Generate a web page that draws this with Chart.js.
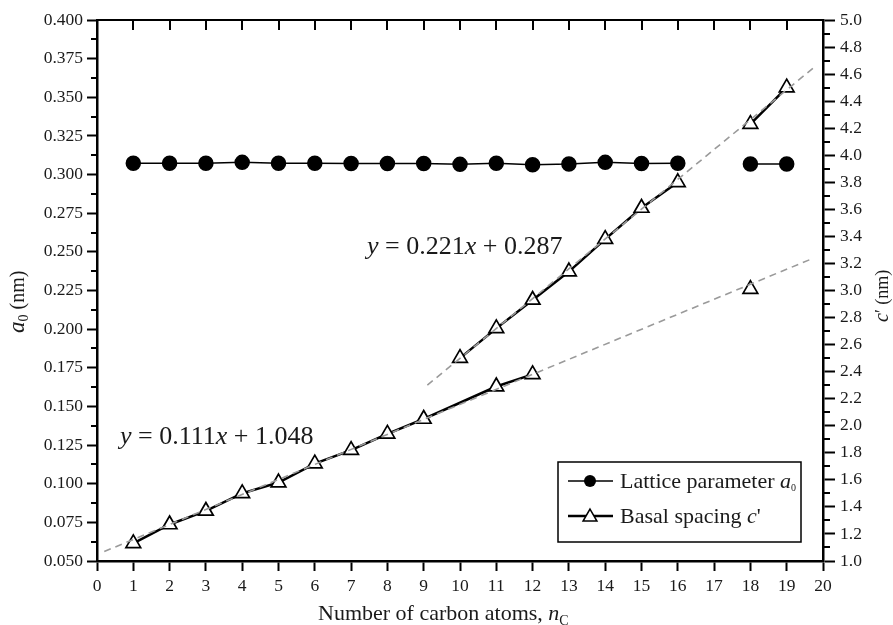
<!DOCTYPE html>
<html>
<head>
<meta charset="utf-8">
<title>Lattice parameter and basal spacing vs number of carbon atoms</title>
<script src="https://cdn.jsdelivr.net/npm/chart.js@4.4.1/dist/chart.umd.min.js"></script>
<style>
  html, body { margin: 0; padding: 0; background: #fff; }
  #chart { display: block; }
</style>
</head>
<body>
<canvas id="chart" width="893" height="625"></canvas>
<script>
// values
const latticeX  = [1, 2, 3, 4, 5, 6, 7, 8, 9, 10, 11, 12, 13, 14, 15, 16, 17, 18, 19];
const latticeA0 = [0.3073, 0.3073, 0.3073, 0.3079, 0.3073, 0.3073, 0.3071, 0.3071, 0.3071, 0.3066,
                   0.3073, 0.3064, 0.3068, 0.3079, 0.3071, 0.3073, null, 0.3068, 0.3068];

// basal spacing c' (nm), two branches; null breaks the line
const basalLowX  = [1, 2, 3, 4, 5, 6, 7, 8, 9, 11, 12, 13, 18];
const basalLowC  = [1.13, 1.27, 1.37, 1.50, 1.58, 1.72, 1.82, 1.94, 2.05, 2.29, 2.38, null, 3.01];
const basalHighX = [10, 11, 12, 13, 14, 15, 16, 17, 18, 19];
const basalHighC = [2.50, 2.72, 2.93, 3.14, 3.38, 3.61, 3.80, null, 4.23, 4.50];

// dashed linear fits, end points as drawn
const fitLowX  = [0.2, 19.7];
const fitLowC  = [1.07, 3.235];
const fitHighX = [9.1, 19.8];
const fitHighC = [2.30, 4.66];

const X_RANGE  = [0, 20];
const A0_RANGE = [0.05, 0.40];
const C_RANGE  = [1.0, 5.0];

const SERIF = '"Liberation Serif", "Times New Roman", serif';
const INK = '#1a1a1a';

const pts = (xs, ys) => xs.map((x, i) => ({ x: x, y: ys[i] }));

function drawRuns(ctx, x, y, runs) {
  for (const r of runs) {
    ctx.font = r.font;
    ctx.fillText(r.text, x, y + (r.dy || 0));
    x += ctx.measureText(r.text).width;
  }
  return x;
}

function triangle(ctx, x, y, r) {
  ctx.beginPath();
  ctx.moveTo(x, y - r);
  ctx.lineTo(x + r * 0.866, y + r / 2);
  ctx.lineTo(x - r * 0.866, y + r / 2);
  ctx.closePath();
}

// frame top, minor ticks, titles, equations and the boxed legend
const decorPlugin = {
  id: 'decor',
  afterDraw(chart) {
    const ctx = chart.ctx;
    const { left, right, top, bottom } = chart.chartArea;
    const xs = chart.scales.x, yl = chart.scales.y, yr = chart.scales.y1;
    ctx.save();
    ctx.strokeStyle = '#000';
    ctx.lineWidth = 2;
    ctx.beginPath();
    ctx.moveTo(left - 1, top);
    ctx.lineTo(right + 1, top);
    for (let v = 1; v < X_RANGE[1]; v++) {
      const px = Math.round(xs.getPixelForValue(v));
      ctx.moveTo(px, top);
      ctx.lineTo(px, top + 10);
    }
    for (let i = 0; i < 14; i++) {
      const py = Math.round(yl.getPixelForValue(0.0625 + i * 0.025));
      ctx.moveTo(left, py);
      ctx.lineTo(left - 6, py);
    }
    for (let i = 0; i < 20; i++) {
      const py = Math.round(yr.getPixelForValue(1.1 + i * 0.2));
      ctx.moveTo(right, py);
      ctx.lineTo(right + 7, py);
    }
    ctx.stroke();

    ctx.fillStyle = INK;
    ctx.textBaseline = 'alphabetic';
    ctx.textAlign = 'left';

    // x title
    drawRuns(ctx, 318, 620, [
      { text: 'Number of carbon atoms, ', font: '22px ' + SERIF },
      { text: 'n', font: 'italic 22px ' + SERIF },
      { text: 'C', font: '14px ' + SERIF, dy: 5 }
    ]);

    // left title
    ctx.save();
    ctx.translate(24, 333);
    ctx.rotate(-Math.PI / 2);
    drawRuns(ctx, 0, 0, [
      { text: 'a', font: 'italic 23px ' + SERIF },
      { text: '0', font: '14px ' + SERIF, dy: 4 },
      { text: ' (nm)', font: '20px ' + SERIF }
    ]);
    ctx.restore();

    // right title
    ctx.save();
    ctx.translate(888, 322);
    ctx.rotate(-Math.PI / 2);
    drawRuns(ctx, 0, 0, [
      { text: 'c', font: 'italic 20px ' + SERIF },
      { text: '\u2032', font: '18px ' + SERIF },
      { text: ' (nm)', font: '18px ' + SERIF }
    ]);
    ctx.restore();

    // fit equations
    drawRuns(ctx, 367, 254, [
      { text: 'y', font: 'italic 26px ' + SERIF },
      { text: ' = 0.221', font: '26px ' + SERIF },
      { text: 'x', font: 'italic 26px ' + SERIF },
      { text: ' + 0.287', font: '26px ' + SERIF }
    ]);
    drawRuns(ctx, 120, 444, [
      { text: 'y', font: 'italic 26px ' + SERIF },
      { text: ' = 0.111', font: '26px ' + SERIF },
      { text: 'x', font: 'italic 26px ' + SERIF },
      { text: ' + 1.048', font: '26px ' + SERIF }
    ]);

    // legend
    ctx.fillStyle = '#fff';
    ctx.fillRect(558, 462, 243, 80);
    ctx.lineWidth = 1.5;
    ctx.strokeRect(558, 462, 243, 80);

    ctx.lineWidth = 1.5;
    ctx.beginPath();
    ctx.moveTo(568, 481);
    ctx.lineTo(613, 481);
    ctx.stroke();
    ctx.fillStyle = '#000';
    ctx.beginPath();
    ctx.arc(590, 481, 6, 0, Math.PI * 2);
    ctx.fill();

    ctx.lineWidth = 2.5;
    ctx.beginPath();
    ctx.moveTo(568, 516);
    ctx.lineTo(613, 516);
    ctx.stroke();
    triangle(ctx, 590, 517, 8);
    ctx.fillStyle = '#fff';
    ctx.fill();
    ctx.lineWidth = 1.5;
    ctx.stroke();

    ctx.fillStyle = INK;
    drawRuns(ctx, 620, 488, [
      { text: 'Lattice parameter ', font: '22px ' + SERIF },
      { text: 'a', font: 'italic 22px ' + SERIF },
      { text: '0', font: '10px ' + SERIF, dy: 3 }
    ]);
    drawRuns(ctx, 620, 523, [
      { text: 'Basal spacing ', font: '22px ' + SERIF },
      { text: 'c', font: 'italic 22px ' + SERIF },
      { text: "'", font: '22px ' + SERIF }
    ]);
    ctx.restore();
  }
};

const basalStyle = {
  yAxisID: 'y1',
  borderColor: '#000',
  borderWidth: 2.5,
  pointStyle: 'triangle',
  pointRadius: 8.5,
  pointBackgroundColor: '#fff',
  pointBorderColor: '#000',
  pointBorderWidth: 1.7,
  spanGaps: false,
  order: 1
};
const fitStyle = {
  yAxisID: 'y1',
  borderColor: '#9a9a9a',
  borderWidth: 1.6,
  borderDash: [7, 5],
  pointRadius: 0,
  order: 0
};

const tickFont = { family: SERIF, size: 17.5 };

new Chart(document.getElementById('chart'), {
  type: 'line',
  data: {
    datasets: [
      {
        label: 'Lattice parameter a0',
        data: pts(latticeX, latticeA0),
        yAxisID: 'y',
        borderColor: '#000',
        borderWidth: 1.5,
        pointStyle: 'circle',
        pointRadius: 7,
        pointBackgroundColor: '#000',
        pointBorderColor: '#000',
        spanGaps: false,
        order: 1
      },
      Object.assign({ label: "Basal spacing c'", data: pts(basalLowX, basalLowC) }, basalStyle),
      Object.assign({ label: "Basal spacing c' (2)", data: pts(basalHighX, basalHighC) }, basalStyle),
      Object.assign({ label: 'fit 1', data: pts(fitLowX, fitLowC) }, fitStyle),
      Object.assign({ label: 'fit 2', data: pts(fitHighX, fitHighC) }, fitStyle)
    ]
  },
  options: {
    responsive: false,
    animation: false,
    layout: { padding: { top: 20, left: 0, right: 0, bottom: 0 } },
    plugins: {
      legend: { display: false },
      tooltip: { enabled: false }
    },
    scales: {
      x: {
        type: 'linear',
        position: 'bottom',
        min: X_RANGE[0],
        max: X_RANGE[1],
        ticks: { stepSize: 1, autoSkip: false, maxRotation: 0, color: INK, font: tickFont, padding: 5 },
        grid: { drawOnChartArea: false, tickLength: 10, tickWidth: 2, tickColor: '#000' },
        border: { color: '#000', width: 2.5 },
        afterFit: (s) => { s.height = 64; }
      },
      y: {
        type: 'linear',
        position: 'left',
        min: A0_RANGE[0],
        max: A0_RANGE[1],
        ticks: { stepSize: 0.025, color: INK, font: tickFont, padding: 4, callback: (v) => v.toFixed(3) },
        grid: { drawOnChartArea: false, tickLength: 10, tickWidth: 2, tickColor: '#000' },
        border: { color: '#000', width: 2.5 },
        afterFit: (s) => { s.width = 97; }
      },
      y1: {
        type: 'linear',
        position: 'right',
        min: C_RANGE[0],
        max: C_RANGE[1],
        ticks: { stepSize: 0.2, color: INK, font: tickFont, padding: 5, callback: (v) => v.toFixed(1) },
        grid: { drawOnChartArea: false, tickLength: 12, tickWidth: 2, tickColor: '#000' },
        border: { color: '#000', width: 2.5 },
        afterFit: (s) => { s.width = 70; }
      }
    }
  },
  plugins: [decorPlugin]
});
</script>
</body>
</html>
